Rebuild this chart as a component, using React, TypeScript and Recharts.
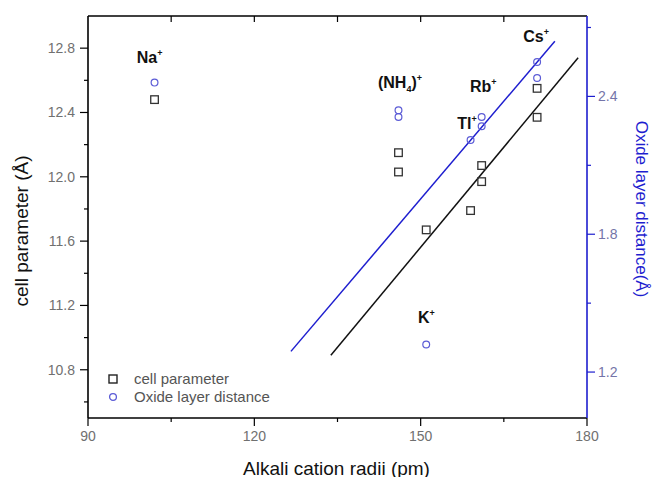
import React from "react";
import { ComposedChart, Scatter, XAxis, YAxis, Legend, Label } from "recharts";

// cation radii (pm) of each measured sample
const cellRadii = [102, 146, 146, 151, 159, 161, 161, 171, 171];
const cellParam = [12.48, 12.15, 12.03, 11.67, 11.79, 12.07, 11.97, 12.55, 12.37];

const oxideRadii = [102, 146, 146, 151, 159, 161, 161, 171, 171];
const oxideDist = [2.46, 2.34, 2.31, 1.32, 2.21, 2.31, 2.27, 2.55, 2.48];

// linear fits (end points)
const cellFitX = [133.8, 178.4];
const cellFitY = [10.89, 12.74];
const oxideFitX = [126.6, 174.2];
const oxideFitY = [1.29, 2.64];

// ion annotations (text start, baseline in data units of the left axis)
const ionNames = ["Na", "(NH4)", "Rb", "Tl", "Cs", "K"];
const ionX = [98.8, 142.3, 158.9, 156.6, 168.5, 149.5];
const ionY = [12.71, 12.55, 12.53, 12.3, 12.84, 11.09];

const xTicks = [90, 105, 120, 135, 150, 165, 180];
const xMajor = [90, 120, 150, 180];
const leftTicks = [10.6, 10.8, 11.0, 11.2, 11.4, 11.6, 11.8, 12.0, 12.2, 12.4, 12.6, 12.8];
const leftMajor = [10.8, 11.2, 11.6, 12.0, 12.4, 12.8];
const rightTicks = [1.2, 1.5, 1.8, 2.1, 2.4, 2.7];
const rightMajor = [1.2, 1.8, 2.4];

const cellData = cellRadii.map((x, i) => ({ x, y: cellParam[i] }));
const oxideData = oxideRadii.map((x, i) => ({ x, y: oxideDist[i] }));
const cellFit = cellFitX.map((x, i) => ({ x, y: cellFitY[i] }));
const oxideFit = oxideFitX.map((x, i) => ({ x, y: oxideFitY[i] }));
const ionData = ionNames.map((name, i) => ({ x: ionX[i], y: ionY[i], name }));

const FONT = "'Liberation Sans', Arial, sans-serif";
const BLUE = "#1e1ecf";
const TICK_LEN = 8;
const TICK_GAP = 5;
const PLOT_TOP = 16;

const LeftTick = (p: any) => {
  const v = p.payload.value;
  const major = leftMajor.includes(v);
  const ax = p.x + TICK_LEN + TICK_GAP;
  return (
    <g>
      <line x1={ax} x2={ax - (major ? 8 : 4)} y1={p.y} y2={p.y} stroke="#000" strokeWidth={1.2} />
      {major && (
        <text x={p.x} y={p.y} dy="0.35em" textAnchor="end" fontSize={14} fill="#707070" fontFamily={FONT}>
          {v.toFixed(1)}
        </text>
      )}
    </g>
  );
};

const RightTick = (p: any) => {
  const v = p.payload.value;
  const major = rightMajor.includes(v);
  const ax = p.x - TICK_LEN - TICK_GAP;
  return (
    <g>
      <line x1={ax} x2={ax + (major ? 8 : 4)} y1={p.y} y2={p.y} stroke={BLUE} strokeWidth={1.2} />
      {major && (
        <text x={p.x - 2} y={p.y} dy="0.35em" textAnchor="start" fontSize={14} fill="#7474a8" fontFamily={FONT}>
          {v.toFixed(1)}
        </text>
      )}
    </g>
  );
};

// bottom ticks; the mirrored ticks on the top frame (pointing inward) are drawn here too
const BottomTick = (p: any) => {
  const v = p.payload.value;
  const major = xMajor.includes(v);
  const edge = v === xTicks[0] || v === xTicks[xTicks.length - 1];
  const ay = p.y - TICK_LEN - 4;
  return (
    <g>
      <line x1={p.x} x2={p.x} y1={ay} y2={ay + (major ? 8 : 4)} stroke="#000" strokeWidth={1.2} />
      {!edge && <line x1={p.x} x2={p.x} y1={PLOT_TOP} y2={PLOT_TOP + 6} stroke="#000" strokeWidth={1.2} />}
      {major && (
        <text x={p.x} y={p.y} dy="0.8em" textAnchor="middle" fontSize={14} fill="#707070" fontFamily={FONT}>
          {v}
        </text>
      )}
    </g>
  );
};

const IonLabel = (p: any) => {
  const name: string = p.payload.name;
  const parts = name.split("4");
  return (
    <text x={p.cx} y={p.cy} fontSize={16} fill="#111" fontFamily={FONT} fontWeight={600}>
      {parts.length > 1 ? (
        <>
          {parts[0]}
          <tspan fontSize={9} dy={4}>4</tspan>
          <tspan dy={-4}>{parts[1]}</tspan>
        </>
      ) : (
        name
      )}
      <tspan fontSize={9} dy={-7}>+</tspan>
    </text>
  );
};

const Square = (p: any) => (
  <rect x={p.cx - 3.8} y={p.cy - 3.8} width={7.6} height={7.6} fill="none" stroke="#333" strokeWidth={1.3} />
);
const Circle = (p: any) => <circle cx={p.cx} cy={p.cy} r={3.4} fill="none" stroke="#5b5bd6" strokeWidth={1.2} />;
const NoShape = () => <g />;

const LegendBox = () => (
  <div style={{ fontFamily: FONT, fontSize: 15, color: "#555", lineHeight: "18px" }}>
    <div style={{ display: "flex", alignItems: "center" }}>
      <svg width={26} height={18}>
        <rect x={1} y={5} width={8} height={8} fill="none" stroke="#222" strokeWidth={1.4} />
      </svg>
      <span>cell parameter</span>
    </div>
    <div style={{ display: "flex", alignItems: "center" }}>
      <svg width={26} height={18}>
        <circle cx={5} cy={9} r={3.4} fill="none" stroke="#5b5bd6" strokeWidth={1.3} />
      </svg>
      <span>Oxide layer distance</span>
    </div>
  </div>
);

export default function App() {
  return (
    <div style={{ position: "absolute", left: 0, top: 0, background: "#fff" }}>
      <ComposedChart width={653} height={477} margin={{ top: 0, right: 0, bottom: 0, left: 0 }}>
        <XAxis
          xAxisId="x"
          type="number"
          dataKey="x"
          domain={[90, 180]}
          ticks={xTicks}
          interval={0}
          height={59}
          tickSize={TICK_LEN}
          tickMargin={4}
          tickLine={false}
          tick={BottomTick}
          axisLine={{ stroke: "#000", strokeWidth: 1.6 }}
          allowDataOverflow
        >
          <Label
            content={(props: any) => {
              const vb = props.viewBox;
              return (
                <text
                  x={vb.x + vb.width / 2 - 1}
                  y={468}
                  dominantBaseline="central"
                  textAnchor="middle"
                  fontSize={19}
                  fill="#111"
                  fontFamily={FONT}
                >
                  Alkali cation radii (pm)
                </text>
              );
            }}
          />
        </XAxis>
        <XAxis
          xAxisId="top"
          orientation="top"
          type="number"
          dataKey="x"
          domain={[90, 180]}
          height={PLOT_TOP}
          tick={false}
          tickLine={false}
          axisLine={{ stroke: "#000", strokeWidth: 1.6 }}
          allowDataOverflow
        />
        <YAxis
          yAxisId="left"
          type="number"
          dataKey="y"
          domain={[10.5, 13.0]}
          ticks={leftTicks}
          interval={0}
          width={88}
          tickSize={TICK_LEN}
          tickMargin={TICK_GAP}
          tickLine={false}
          tick={LeftTick}
          axisLine={{ stroke: "#000", strokeWidth: 1.6 }}
          allowDataOverflow
        >
          <Label
            content={(props: any) => {
              const vb = props.viewBox;
              const cx = vb.x + 21;
              const cy = vb.y + vb.height / 2 + 14;
              return (
                <text
                  x={cx}
                  y={cy}
                  transform={`rotate(-90 ${cx} ${cy})`}
                  dominantBaseline="central"
                  textAnchor="middle"
                  fontSize={19}
                  fill="#111"
                  fontFamily={FONT}
                >
                  cell parameter (Å)
                </text>
              );
            }}
          />
        </YAxis>
        <YAxis
          yAxisId="right"
          orientation="right"
          type="number"
          dataKey="y"
          domain={[1.0, 2.75]}
          ticks={rightTicks}
          interval={0}
          width={66}
          tickSize={TICK_LEN}
          tickMargin={TICK_GAP}
          tickLine={false}
          tick={RightTick}
          axisLine={{ stroke: BLUE, strokeWidth: 1.6 }}
          allowDataOverflow
        >
          <Label
            content={(props: any) => {
              const vb = props.viewBox;
              const cx = vb.x + 54;
              const cy = vb.y + vb.height / 2 - 8;
              return (
                <text
                  x={cx}
                  y={cy}
                  transform={`rotate(90 ${cx} ${cy})`}
                  dominantBaseline="central"
                  textAnchor="middle"
                  fontSize={17}
                  fill={BLUE}
                  fontFamily={FONT}
                >
                  Oxide layer distance(Å)
                </text>
              );
            }}
          />
        </YAxis>
        <Legend
          layout="horizontal"
          verticalAlign="middle"
          align="center"
          wrapperStyle={{ left: 108, top: 370, width: 220 }}
          content={LegendBox}
        />
        <Scatter
          name="oxide fit"
          data={oxideFit}
          xAxisId="x"
          yAxisId="right"
          line={{ stroke: BLUE, strokeWidth: 1.5 }}
          shape={NoShape}
          legendType="none"
          isAnimationActive={false}
        />
        <Scatter
          name="cell fit"
          data={cellFit}
          xAxisId="x"
          yAxisId="left"
          line={{ stroke: "#111", strokeWidth: 1.5 }}
          shape={NoShape}
          legendType="none"
          isAnimationActive={false}
        />
        <Scatter
          name="cell parameter"
          data={cellData}
          xAxisId="x"
          yAxisId="left"
          shape={Square}
          isAnimationActive={false}
        />
        <Scatter
          name="Oxide layer distance"
          data={oxideData}
          xAxisId="x"
          yAxisId="right"
          shape={Circle}
          isAnimationActive={false}
        />
        <Scatter
          name="ions"
          data={ionData}
          xAxisId="x"
          yAxisId="left"
          shape={IonLabel}
          legendType="none"
          isAnimationActive={false}
        />
      </ComposedChart>
    </div>
  );
}
